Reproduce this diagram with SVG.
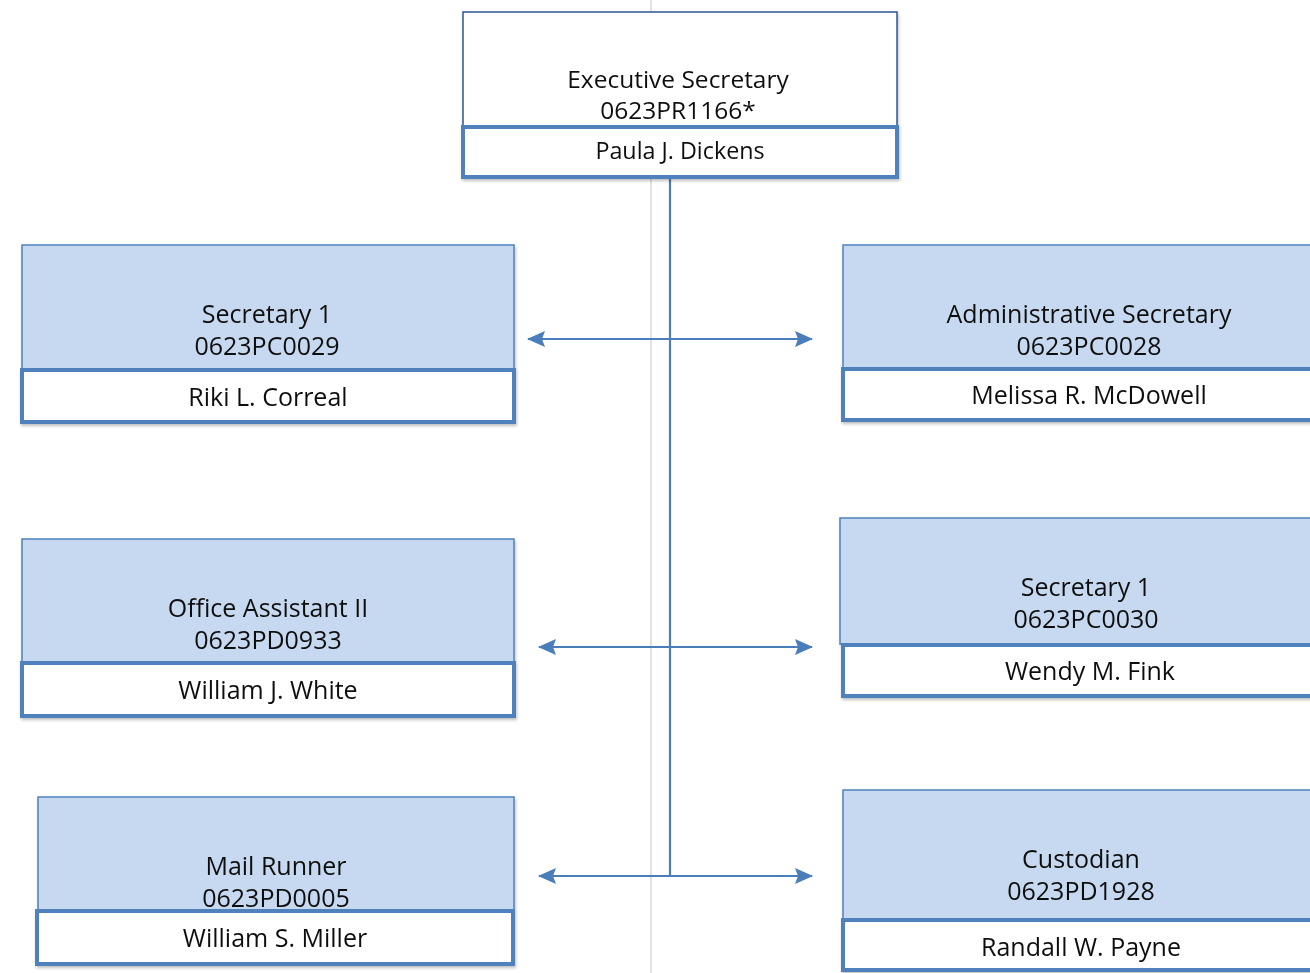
<svg xmlns="http://www.w3.org/2000/svg" width="1310" height="973" viewBox="0 0 1310 973">
<style>
.t{font-family:"Open Sans","Noto Sans","Liberation Sans",sans-serif;fill:#111;text-anchor:middle}
.h{font-size:25px}
.n{font-size:25px}
.top{fill:#ffffff;stroke:#2f5597;stroke-width:1.5}
.pos{fill:#c6d9f0;stroke:#4f81bd;stroke-width:1.5}
.name{fill:#ffffff;stroke:#4f81bd;stroke-width:4}
.ln{stroke:#4a7ebb;stroke-width:2.2;fill:none}
</style>
<defs>
<marker id="ah" viewBox="0 0 18 18" refX="17" refY="9" markerWidth="18" markerHeight="18" markerUnits="userSpaceOnUse" orient="auto-start-reverse">
<path d="M0,1 L18,9 L0,17 L3,9 Z" fill="#4a7ebb"/>
</marker>
<filter id="sh" x="-5%" y="-5%" width="110%" height="115%">
<feDropShadow dx="1" dy="2" stdDeviation="1.5" flood-color="#000" flood-opacity="0.25"/>
</filter>
</defs>
<rect width="1310" height="973" fill="#ffffff"/>
<line x1="651" y1="0" x2="651" y2="973" stroke="#d9d9d9" stroke-width="1.5"/>
<g id="connectors">
<line class="ln" x1="670" y1="178" x2="670" y2="876"/>
<line class="ln" x1="528" y1="339" x2="812" y2="339" marker-start="url(#ah)" marker-end="url(#ah)"/>
<line class="ln" x1="539" y1="647" x2="812" y2="647" marker-start="url(#ah)" marker-end="url(#ah)"/>
<line class="ln" x1="539" y1="876" x2="812" y2="876" marker-start="url(#ah)" marker-end="url(#ah)"/>
</g>
<g id="n0" filter="url(#sh)">
<rect class="top" x="463" y="12" width="434" height="115"/>
<rect class="name" x="463" y="127" width="434" height="50"/>
<text class="t" style="font-size:24.5px" x="678" y="88">Executive Secretary</text>
<text class="t" style="font-size:24.5px" x="678" y="119">0623PR1166*</text>
<text class="t" style="font-size:23.3px" x="680" y="159">Paula J. Dickens</text>
</g>
<g id="n1" filter="url(#sh)">
<rect class="pos" x="22" y="245" width="492" height="125"/>
<rect class="name" x="22" y="370" width="492" height="52"/>
<text class="t h" x="267" y="323">Secretary 1</text>
<text class="t h" x="267" y="355">0623PC0029</text>
<text class="t n" x="268" y="406">Riki L. Correal</text>
</g>
<g id="n2" filter="url(#sh)">
<rect class="pos" x="843" y="245" width="480" height="124"/>
<rect class="name" x="843" y="369" width="480" height="51"/>
<text class="t h" x="1089" y="323">Administrative Secretary</text>
<text class="t h" x="1089" y="355">0623PC0028</text>
<text class="t n" x="1089" y="404">Melissa R. McDowell</text>
</g>
<g id="n3" filter="url(#sh)">
<rect class="pos" x="22" y="539" width="492" height="124"/>
<rect class="name" x="22" y="663" width="492" height="53"/>
<text class="t h" x="268" y="617">Office Assistant II</text>
<text class="t h" x="268" y="649">0623PD0933</text>
<text class="t n" x="268" y="699">William J. White</text>
</g>
<g id="n4" filter="url(#sh)">
<rect class="pos" x="840" y="518" width="480" height="126"/>
<rect class="name" x="843" y="645" width="480" height="51"/>
<text class="t h" x="1086" y="596">Secretary 1</text>
<text class="t h" x="1086" y="628">0623PC0030</text>
<text class="t n" x="1090" y="680">Wendy M. Fink</text>
</g>
<g id="n5" filter="url(#sh)">
<rect class="pos" x="38" y="797" width="476" height="114"/>
<rect class="name" x="37" y="911" width="476" height="53"/>
<text class="t h" x="276" y="875">Mail Runner</text>
<text class="t h" x="276" y="907">0623PD0005</text>
<text class="t n" x="275" y="947">William S. Miller</text>
</g>
<g id="n6" filter="url(#sh)">
<rect class="pos" x="843" y="790" width="480" height="130"/>
<rect class="name" x="843" y="920" width="480" height="50"/>
<text class="t h" x="1081" y="868">Custodian</text>
<text class="t h" x="1081" y="900">0623PD1928</text>
<text class="t n" x="1081" y="956">Randall W. Payne</text>
</g>
</svg>
